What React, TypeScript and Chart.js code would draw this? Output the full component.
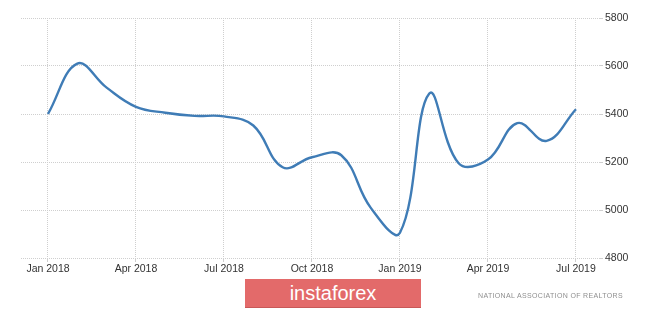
import React, { useEffect, useRef } from "react";
import { Chart, registerables } from "chart.js";

Chart.register(...registerables);

const months: string[] = [
  "Jan 2018", "Feb 2018", "Mar 2018", "Apr 2018", "May 2018", "Jun 2018",
  "Jul 2018", "Aug 2018", "Sep 2018", "Oct 2018", "Nov 2018", "Dec 2018",
  "Jan 2019", "Feb 2019", "Mar 2019", "Apr 2019", "May 2019", "Jun 2019", "Jul 2019",
];
const salesValues: number[] = [
  5400, 5610, 5510, 5430, 5405, 5392, 5390, 5352, 5178, 5220, 5228, 5010,
  4905, 5485, 5195, 5210, 5362, 5288, 5420,
];
const xTickMonths: number[] = [0, 3, 6, 9, 12, 15, 18];
const xTickLabels: string[] = ["Jan 2018", "Apr 2018", "Jul 2018", "Oct 2018", "Jan 2019", "Apr 2019", "Jul 2019"];
const yTicks: number[] = [4800, 5000, 5200, 5400, 5600, 5800];

export default function App() {
  const ref = useRef<HTMLCanvasElement | null>(null);
  useEffect(() => {
    if (!ref.current) return;
    const chart = new Chart(ref.current, {
      type: "line",
      data: {
        labels: months,
        datasets: [
          {
            label: "Existing Home Sales",
            data: salesValues.map((v, i) => ({ x: i, y: v })),
            borderColor: "#3f7cb6",
            borderWidth: 2.4,
            pointRadius: 0,
            tension: 0.4,
            fill: false,
          },
        ],
      },
      options: {
        animation: false,
        responsive: false,
        maintainAspectRatio: false,
        layout: { padding: { left: 21, top: 18, right: 0, bottom: 0 } },
        plugins: { legend: { display: false }, tooltip: { enabled: false } },
        scales: {
          x: {
            type: "linear",
            min: -0.92,
            max: 18.82,
            afterBuildTicks: (s: any) => {
              s.ticks = xTickMonths.map((v) => ({ value: v }));
            },
            afterFit: (s: any) => {
              s.height = 52;
            },
            ticks: {
              autoSkip: false,
              maxRotation: 0,
              padding: 1,
              color: "#333333",
              font: { family: "'Liberation Sans', Arial, sans-serif", size: 10.5 },
              callback: (v: any) => {
                const idx = xTickMonths.indexOf(Number(v));
                return idx >= 0 ? xTickLabels[idx] : "";
              },
            },
            grid: { color: "#cfcfcf", lineWidth: 1, tickLength: 4, drawTicks: true },
            border: { display: false, dash: [1, 1] },
          },
          y: {
            position: "right",
            min: 4800,
            max: 5800,
            afterBuildTicks: (s: any) => {
              s.ticks = yTicks.map((v) => ({ value: v }));
            },
            afterFit: (s: any) => {
              s.width = 65;
            },
            ticks: {
              padding: 2,
              color: "#333333",
              font: { family: "'Liberation Sans', Arial, sans-serif", size: 10.5 },
              callback: (v: any) => String(v),
            },
            grid: { color: "#cfcfcf", lineWidth: 1, tickLength: 3, drawTicks: true },
            border: { display: false, dash: [1, 1] },
          },
        },
      },
    });
    return () => chart.destroy();
  }, []);

  return (
    <div style={{ position: "fixed", left: 0, top: 0, width: 665, height: 310, background: "#ffffff" }}>
      <canvas ref={ref} width={665} height={310} style={{ position: "absolute", left: 0, top: 0 }} />
      <div
        style={{
          position: "absolute",
          left: 245,
          top: 279,
          width: 176,
          height: 29,
          background: "#e36a6a",
          borderBottom: "1px solid #c85858",
          boxSizing: "border-box",
          color: "#ffffff",
          fontFamily: "'Liberation Sans Narrow', 'Liberation Sans', Arial, sans-serif",
          fontSize: 20,
          lineHeight: "28px",
          textAlign: "center",
        }}
      >
        instaforex
      </div>
      <div
        style={{
          position: "absolute",
          left: 478,
          top: 291,
          color: "#8f8f8f",
          fontFamily: "'Liberation Sans', Arial, sans-serif",
          fontSize: 7,
          letterSpacing: 0.35,
          whiteSpace: "nowrap",
          lineHeight: "10px",
        }}
      >
        NATIONAL ASSOCIATION OF REALTORS
      </div>
    </div>
  );
}
